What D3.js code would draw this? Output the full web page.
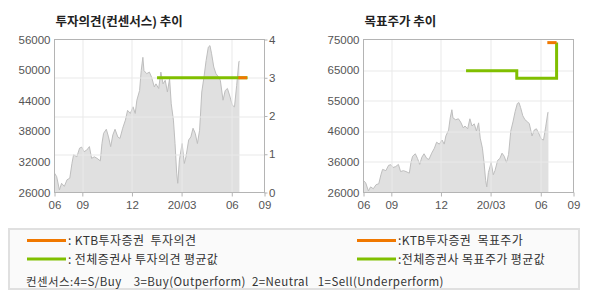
<!DOCTYPE html>
<html>
<head>
<meta charset="utf-8">
<script src="https://cdn.jsdelivr.net/npm/d3@7"></script>
<style>
  body { margin: 0; background: #fff; }
  text { font-family: "Liberation Sans", "Noto Sans CJK KR", sans-serif; }
</style>
</head>
<body>
<div id="chart"></div>
<script>
// stock price (daily close)
var priceDates = ["2019-07-12","2019-07-16","2019-07-21","2019-07-25","2019-07-30","2019-08-04","2019-08-09","2019-08-13","2019-08-16","2019-08-22",
  "2019-08-27","2019-08-31","2019-09-04","2019-09-09","2019-09-14","2019-09-18","2019-09-23","2019-09-28","2019-10-04","2019-10-07",
  "2019-10-10","2019-10-15","2019-10-19","2019-10-23","2019-10-27","2019-10-31","2019-11-05","2019-11-09","2019-11-14","2019-11-19",
  "2019-11-23","2019-11-28","2019-12-03","2019-12-07","2019-12-10","2019-12-15","2019-12-18","2019-12-21","2019-12-23","2019-12-28",
  "2020-01-02","2020-01-06","2020-01-11","2020-01-14","2020-01-19","2020-01-23","2020-01-27","2020-01-31","2020-02-04","2020-02-08",
  "2020-02-11","2020-02-15","2020-02-18","2020-02-21","2020-02-23","2020-02-26","2020-03-02","2020-03-06","2020-03-09","2020-03-14",
  "2020-03-18","2020-03-22","2020-03-26","2020-03-30","2020-04-03","2020-04-07","2020-04-11","2020-04-15","2020-04-19","2020-04-22",
  "2020-04-25","2020-04-29","2020-05-03","2020-05-08","2020-05-11","2020-05-16","2020-05-20","2020-05-24","2020-05-29","2020-06-02",
  "2020-06-06","2020-06-10","2020-06-14","2020-06-15"];
var priceValues = [29800,29100,26500,27800,27200,28500,28800,31700,33400,33000,
  34700,34900,34000,34300,35000,32700,33000,32700,32200,35600,
  37600,38400,36900,35000,37300,38400,36900,36600,38600,40200,
  42100,41500,42800,41500,44100,46000,49900,52500,49900,49300,
  49600,48600,46700,47300,46400,49600,47300,48000,45700,48300,
  43400,40200,35600,29800,27800,32400,35600,31700,33000,36300,
  36900,38600,37600,35600,38200,45700,48600,51900,54500,54800,
  53200,50600,49300,48600,48000,44100,46000,46400,44700,43100,
  42800,47000,51600,51800];

// investment opinion (consensus), 4=S/Buy ... 1=Sell
var opinionAvgDates = ["2020-01-16","2020-06-30"];
var opinionAvgValues = [3, 3];
var opinionKtbDates = ["2020-06-13","2020-06-29"];
var opinionKtbValues = [3, 3];

// target price
var targetAvgDates = ["2020-01-16","2020-04-18","2020-06-30"];
var targetAvgValues = [65000, 62600, 74000];
var targetKtbDates = ["2020-06-13","2020-06-30"];
var targetKtbValues = [74000, 74000];

// axes
var xDomain = ["2019-07-12","2020-07-31"];
var xTickDates = ["2019-07-12","2019-09-01","2019-12-01","2020-03-01","2020-06-01","2020-07-31"];
var xTickLabels = ["06","09","12","20/03","06","09"];
var priceTicks = [26000,32000,38000,44000,50000,56000];
var opinionTicks = [0,1,2,3,4];
var targetTicks = [26000,35800,45600,55400,65200,75000];
var targetTickLabels = ["26000","36000","46000","55000","65000","75000"];

var parse = d3.timeParse("%Y-%m-%d");
var orange = "#f07800", green = "#80bf00";

var svg = d3.select("#chart").append("svg")
    .attr("width", 590)
    .attr("height", 300);

var w = 210, h = 153;

function drawPanel(left, title, yDomain, yTicks, yLabels, gridTicks, lines, rightAxis) {
    var g = svg.append("g")
        .attr("transform", "translate(" + left + ",39.5)");

    var x = d3.scaleTime().domain(xDomain.map(parse)).range([0, w]);
    var y = d3.scaleLinear().domain(yDomain).range([h, 0]);

    var price = priceDates.map(function(d, i) { return {date: parse(d), value: priceValues[i]}; });

    g.append("path")
        .datum(price)
        .attr("fill", "#e0e0e0")
        .attr("d", d3.area().x(d => x(d.date)).y0(h).y1(d => y(d.value)));
    g.append("path")
        .datum(price)
        .attr("fill", "none")
        .attr("stroke", "#bebebe")
        .attr("stroke-width", 1)
        .attr("d", d3.line().x(d => x(d.date)).y(d => y(d.value)));

    // grid
    var gy = gridTicks.scale;
    g.selectAll(".hgrid")
        .data(gridTicks.values.slice(1, -1))
        .enter().append("line")
        .attr("x1", 0).attr("x2", w)
        .attr("y1", d => Math.round(gy(d)) + 0.5).attr("y2", d => Math.round(gy(d)) + 0.5)
        .attr("stroke", "#e9e9e9");
    g.selectAll(".vgrid")
        .data(xTickDates.slice(1, -1))
        .enter().append("line")
        .attr("y1", 0).attr("y2", h)
        .attr("x1", d => Math.round(x(parse(d))) + 0.5).attr("x2", d => Math.round(x(parse(d))) + 0.5)
        .attr("stroke", "#e9e9e9");

    lines.forEach(function(l) {
        var pts = l.dates.map(function(d, i) { return {date: parse(d), value: l.values[i]}; });
        g.append("path")
            .datum(pts)
            .attr("fill", "none")
            .attr("stroke", l.color)
            .attr("stroke-width", 3)
            .attr("d", d3.line().curve(d3.curveStepAfter).x(d => x(d.date)).y(d => l.scale(d.value)));
    });

    // border
    g.append("rect")
        .attr("x", 0).attr("y", 0)
        .attr("width", w).attr("height", h)
        .attr("fill", "none")
        .attr("stroke", "#b4b4b4");

    var xa = g.append("g")
        .attr("transform", "translate(0," + h + ")")
        .call(d3.axisBottom(x).tickValues(xTickDates.map(parse))
            .tickFormat((d, i) => xTickLabels[i]).tickSize(4).tickPadding(4.5).tickSizeOuter(0));

    var ya = g.append("g")
        .call(d3.axisLeft(y).tickValues(yTicks).tickFormat((d, i) => yLabels[i]).tickSize(0).tickPadding(4));

    var axes = [xa, ya];
    if (rightAxis) {
        var ra = g.append("g")
            .attr("transform", "translate(" + w + ",0)")
            .call(d3.axisRight(rightAxis).tickValues(opinionTicks).tickFormat(d3.format("d"))
                .tickSize(3).tickPadding(1.5));
        axes.push(ra);
    }
    axes.forEach(function(a) {
        a.select("path.domain").remove();
        a.selectAll("line").attr("stroke", "#b4b4b4");
        a.selectAll("text").attr("fill", "#555").style("font-size", "11.5px");
    });

    svg.append("text")
        .attr("x", left + 1)
        .attr("y", 26)
        .attr("fill", "#222")
        .style("font-family", "'Noto Sans CJK KR'")
        .style("font-weight", "bold")
        .style("font-size", "12.5px")
        .text(title);
}

var yOpinion = d3.scaleLinear().domain([0, 4]).range([h, 0]);
var yTarget = d3.scaleLinear().domain([26000, 75000]).range([h, 0]);

drawPanel(54.5, "투자의견(컨센서스) 추이", [26000, 56000], priceTicks, priceTicks.map(String),
    {scale: yOpinion, values: opinionTicks},
    [{dates: opinionAvgDates, values: opinionAvgValues, color: green, scale: yOpinion},
     {dates: opinionKtbDates, values: opinionKtbValues, color: orange, scale: yOpinion}],
    yOpinion);

drawPanel(363.5, "목표주가 추이", [26000, 75000], targetTicks, targetTickLabels,
    {scale: yTarget, values: targetTicks},
    [{dates: targetAvgDates, values: targetAvgValues, color: green, scale: yTarget},
     {dates: targetKtbDates, values: targetKtbValues, color: orange, scale: yTarget}],
    null);

// legend
var nb = function(s) { return s.replace(/ /g, "\u00a0"); };
var legend = svg.append("g");
legend.append("rect")
    .attr("x", 9).attr("y", 229)
    .attr("width", 570).attr("height", 60)
    .attr("fill", "#fafafa")
    .attr("stroke", "#e0e0e0")
    .attr("stroke-width", 2);

var legendItems = [
    {x: 27, y: 240.5, color: orange, label: ": KTB투자증권  투자의견"},
    {x: 27, y: 259, color: green, label: ": 전체증권사 투자의견 평균값"},
    {x: 357, y: 240.5, color: orange, label: ":KTB투자증권  목표주가"},
    {x: 357, y: 259, color: green, label: ":전체증권사 목표주가 평균값"}
];
legendItems.forEach(function(d) {
    legend.append("line")
        .attr("x1", d.x).attr("x2", d.x + 39)
        .attr("y1", d.y).attr("y2", d.y)
        .attr("stroke", d.color)
        .attr("stroke-width", 3);
    legend.append("text")
        .attr("x", d.x + 41)
        .attr("y", d.y + 4.5)
        .attr("fill", "#333")
        .style("font-family", "'Noto Sans CJK KR'")
        .style("font-size", "12px")
        .style("letter-spacing", "0.4px")
        .text(nb(d.label));
});
legend.append("text")
    .attr("x", 26)
    .attr("y", 286)
    .attr("fill", "#333")
    .style("font-family", "'Noto Sans CJK KR'")
    .style("font-size", "11.5px")
    .style("letter-spacing", "0.45px")
    .text(nb("컨센서스:4=S/Buy    3=Buy(Outperform)  2=Neutral   1=Sell(Underperform)"));
</script>
</body>
</html>
